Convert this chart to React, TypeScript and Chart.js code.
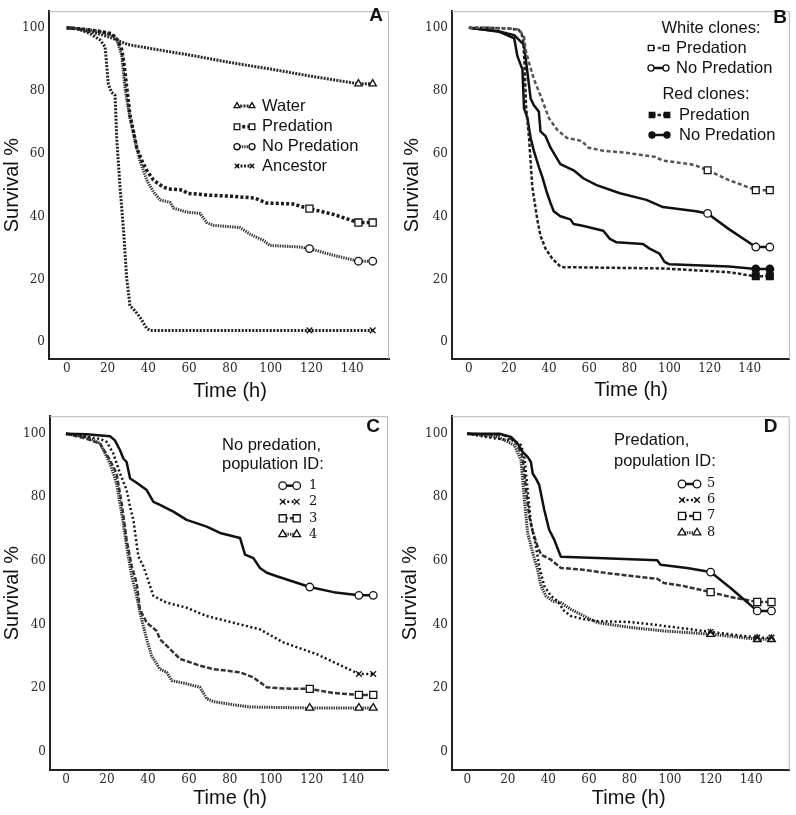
import React, { useEffect, useRef } from 'react';
import { Chart, registerables } from 'chart.js';

Chart.register(...registerables);

// ---------- tick values ----------
const xTickValues = [0, 20, 40, 60, 80, 100, 120, 140];
const yTickValues = [0, 20, 40, 60, 80, 100];

// ---------- Panel A ----------
const aWaterT = [0, 5, 10, 15, 20, 25, 30, 45, 60, 80, 100, 120, 143, 150];
const aWaterS = [100, 99.8, 99, 98.2, 97.3, 96, 94.7, 93, 91.4, 89, 86.9, 84.6, 82.2, 82.2];
const aWaterMarks = [143, 150];

const aPredT = [0, 8, 15, 22, 25, 27, 28, 29.5, 31, 32.7, 34.3, 36.8, 39.2, 42.5, 47.4, 50, 57, 59, 70, 82, 92, 98, 111, 114.5, 119, 130.7, 140.5, 143, 150];
const aPredS = [100, 99.6, 99, 98.2, 96, 93, 89, 80.6, 72.3, 67.1, 61.9, 57.8, 54.7, 51.6, 49.3, 48.8, 48.4, 47.4, 46.8, 46.4, 45.9, 44.3, 44, 43.3, 42.5, 40.7, 38.6, 38.1, 38.1];
const aPredMarks = [119, 143, 150];

const aNoPredT = [0, 8, 15, 22, 24.5, 27, 28.6, 31, 34.3, 35.9, 39.2, 42.5, 45.8, 50.7, 52.3, 58.8, 65.4, 68.6, 71.9, 85, 89.9, 96.4, 99.7, 114.4, 119, 130.7, 143, 150];
const aNoPredS = [100, 99.6, 99, 97.8, 96.5, 91, 80.6, 71.3, 61.9, 57.8, 51.6, 47.9, 45.3, 44.5, 42.7, 41.4, 41, 38.1, 37.2, 36.5, 34.4, 32.4, 30.8, 30.3, 29.8, 27.7, 25.8, 25.8];
const aNoPredMarks = [119, 143, 150];

const aAncT = [0, 5, 11.4, 16.3, 18.8, 19.6, 20.4, 22, 23.7, 24.5, 26.1, 27.8, 29.4, 31, 32.7, 35.9, 39.2, 40.8, 119, 150];
const aAncS = [100, 99.8, 98.2, 96.2, 94, 88, 82, 79.5, 78.5, 65, 49.5, 36, 20.4, 11.6, 10.6, 8, 4.4, 3.8, 3.8, 3.8];
const aAncMarks = [119, 150];

// ---------- Panel B ----------
const bWPredT = [0, 10, 20, 25, 27.5, 28.3, 30, 32.4, 35.7, 39.9, 44, 48.9, 53, 56.3, 59.6, 67, 76.9, 92.6, 96.7, 109.9, 113.2, 119, 129.6, 143, 150];
const bWPredS = [100, 100, 99.8, 99.5, 97.2, 93, 88.9, 83.7, 78.5, 71.3, 67.6, 65, 64.5, 64, 61.9, 60.9, 60.4, 59, 57.8, 56.7, 56.2, 54.7, 51.6, 48.4, 48.4];
const bWPredMarks = [119, 143, 150];

const bWNoPredT = [0, 5, 14.3, 22.6, 27.5, 29.2, 30.8, 32.4, 34.9, 35.7, 38.2, 40.7, 45.6, 52.2, 57.2, 63.7, 75.3, 88.5, 96.7, 113.2, 119, 129.6, 143, 150];
const bWNoPredS = [100, 99.6, 99, 97.7, 94.6, 85.8, 77.5, 75.4, 73.3, 67.1, 65.6, 61.9, 56.7, 54.7, 52.1, 50, 47.4, 45.3, 43, 41.7, 41, 36, 30.3, 30.3];
const bWNoPredMarks = [119, 143, 150];

const bRPredT = [0, 10, 20, 25, 27, 27.8, 28.5, 30, 31.6, 34.1, 35.7, 38.2, 41.5, 45.6, 47.3, 60, 96.7, 129.6, 143, 150];
const bRPredS = [100, 100, 99.8, 99.3, 97, 88, 75, 65, 49.5, 39.1, 33.9, 29.8, 26.7, 24.1, 23.9, 23.8, 23.5, 22.3, 21, 21];
const bRPredMarks = [143, 150];

const bRNoPredT = [0, 5, 15, 22.6, 24.2, 26.7, 27.5, 29.2, 30.8, 32.4, 34.9, 36.6, 39, 40.7, 42.3, 45.6, 50.6, 52.2, 57.2, 67, 70.3, 73.6, 86.8, 90.1, 95, 97.5, 100, 129.6, 143, 150];
const bRNoPredS = [100, 99.6, 98.8, 96.7, 91, 86.8, 74.4, 71.3, 65, 60.9, 55.7, 52.6, 47.4, 44.3, 41.7, 40.1, 39.1, 37.6, 37, 35.5, 32.9, 31.8, 31.3, 29.8, 28.2, 25.6, 24.8, 24.1, 23.3, 23.3];
const bRNoPredMarks = [143, 150];

// ---------- Panel C ----------
const cP1T = [0, 10, 21.5, 23.9, 26.4, 28, 29.6, 31.3, 34.5, 39.4, 42.7, 45.9, 52.4, 58.9, 68.7, 75.2, 85, 87.4, 91.5, 94.7, 98, 102.9, 119, 130.6, 143, 150];
const cP1S = [100, 99.8, 99.2, 97.9, 94.8, 92.2, 91.1, 85.9, 84.6, 82.3, 78.6, 77.6, 75.5, 72.9, 70.8, 68.8, 67.2, 62, 60.9, 57.8, 56.3, 55.2, 51.8, 50.2, 49.2, 49.2];
const cP1Marks = [119, 143, 150];

const cP2T = [0, 16.6, 19.9, 23.1, 26.4, 29.6, 31.3, 32.9, 35.3, 37.8, 42.7, 49.2, 58.9, 68.7, 81.7, 94.7, 106.1, 122.4, 143, 150];
const cP2S = [100, 98.4, 97.4, 93.8, 87.5, 82.3, 77, 72.9, 61.5, 58.3, 49, 46.9, 45.3, 42.7, 40.6, 38.5, 34.4, 30.7, 24.5, 24.5];
const cP2Marks = [143, 150];

const cP3T = [0, 10, 16.6, 21.5, 24.7, 27.2, 29.6, 32.1, 34.5, 36.1, 39.4, 44.3, 45.9, 50.8, 55.7, 65.4, 72, 85, 91.5, 98, 106.1, 119, 130.6, 143, 150];
const cP3S = [100, 98.4, 96.9, 91.7, 87.5, 78.1, 66.7, 58.3, 53.1, 44.8, 40.6, 38, 35.4, 32.3, 29.2, 27.1, 26, 25, 23.4, 20.3, 19.9, 19.8, 18.5, 17.9, 17.9];
const cP3Marks = [119, 143, 150];

const cP4T = [0, 10, 16.6, 21.5, 24.7, 27.2, 29.6, 32.1, 34.5, 36.1, 39.4, 41.8, 45.9, 49.2, 51.6, 58.9, 65.4, 68.7, 72, 81.7, 89.9, 119, 143, 150];
const cP4S = [100, 99, 97, 90.6, 84.4, 75, 64.6, 55.2, 49, 43.8, 35.4, 30.2, 26, 25, 22.4, 21.4, 20.3, 16.7, 15.8, 14.8, 14.1, 13.8, 13.8, 13.8];
const cP4Marks = [119, 143, 150];

// ---------- Panel D ----------
const dP5T = [0, 15.9, 21.6, 24.9, 27.3, 29.8, 31.4, 32.3, 33.9, 35.5, 38, 40.4, 42.9, 44.5, 46.2, 64.2, 93.7, 95.3, 108.4, 120, 129.7, 143, 150];
const dP5S = [100, 100, 99, 96.9, 94.3, 92.7, 91.1, 87.5, 85.9, 83.9, 76, 69.8, 66.7, 64.1, 61.3, 60.9, 60.2, 58.8, 57.8, 56.5, 51.6, 44.3, 44.3];
const dP5Marks = [120, 143, 150];

const dP6T = [0, 15, 22.4, 26.5, 28.2, 29.8, 31.4, 33.9, 35.5, 38, 41.3, 44.5, 47.8, 51.1, 57.6, 64.2, 80.6, 96.9, 120, 143, 150];
const dP6S = [100, 98.4, 97.9, 96.4, 92.7, 82.3, 71.9, 64.6, 58.3, 52.1, 49, 47.4, 44.3, 42.7, 41.7, 41.1, 40.8, 39.6, 37.7, 35.9, 35.9];
const dP6Marks = [120, 143, 150];

const dP7T = [0, 18.3, 24.1, 27.3, 29, 30.6, 32.3, 34.7, 36.4, 41.3, 46.2, 56, 72.4, 93.7, 96.9, 106.8, 120, 129.7, 143, 150];
const dP7S = [100, 99.5, 97.4, 92.7, 82.3, 74, 69.3, 64.6, 62, 60.4, 57.8, 57.3, 55.9, 54.4, 53.1, 52.1, 50.2, 48.7, 47.1, 47.1];
const dP7Marks = [120, 143, 150];

const dP8T = [0, 15, 23.3, 26.5, 28.2, 29.8, 32.3, 34.7, 36.4, 38.8, 42.1, 46.2, 51.1, 57.6, 64.2, 80.6, 96.9, 120, 143, 150];
const dP8S = [100, 99, 96.4, 91.7, 79.2, 68.8, 62.5, 57.3, 52.1, 49, 47.4, 46.9, 44.8, 42.7, 40.6, 39.1, 38, 37, 35.4, 35.4];
const dP8Marks = [120, 143, 150];

// ---------- styles ----------
type St = { color: string; width: number; dash: number[]; point: string; r: number; fill: string };

const stWater: St = { color: '#2a2a2a', width: 3, dash: [2, 1.2], point: 'triangle', r: 4.2, fill: '#fff' };
const stPredA: St = { color: '#1a1a1a', width: 3.5, dash: [3, 2.2], point: 'rect', r: 5, fill: '#fff' };
const stNoPredA: St = { color: '#3a3a3a', width: 3, dash: [1.4, 1], point: 'circle', r: 3.8, fill: '#fff' };
const stAnc: St = { color: '#222', width: 3, dash: [2, 1.5], point: 'crossRot', r: 4, fill: '#fff' };

const stWPred: St = { color: '#555', width: 2.5, dash: [4, 2.5], point: 'rect', r: 4.8, fill: '#fff' };
const stWNoPred: St = { color: '#111', width: 2.5, dash: [], point: 'circle', r: 3.8, fill: '#fff' };
const stRPred: St = { color: '#222', width: 2.5, dash: [3.5, 2], point: 'rect', r: 4.8, fill: '#111' };
const stRNoPred: St = { color: '#111', width: 2.5, dash: [], point: 'circle', r: 3.8, fill: '#111' };

const stSolid: St = { color: '#111', width: 2.5, dash: [], point: 'circle', r: 3.8, fill: '#fff' };
const stDot: St = { color: '#111', width: 2.5, dash: [2, 2.5], point: 'crossRot', r: 4, fill: '#fff' };
const stDash: St = { color: '#333', width: 2.5, dash: [5, 2], point: 'rect', r: 5, fill: '#fff' };
const stDense: St = { color: '#333', width: 3, dash: [1.4, 1], point: 'triangle', r: 4.5, fill: '#fff' };

const SANS = '"Liberation Sans", Arial, sans-serif';
const SERIF = '"DejaVu Serif", serif';

function makeDs(label: string, t: number[], s: number[], marks: number[], st: St) {
  const markSet = new Set(marks);
  return {
    label,
    data: t.map((x, i) => ({ x, y: s[i] })),
    borderColor: st.color,
    borderWidth: st.width,
    borderDash: st.dash,
    borderJoinStyle: 'round',
    tension: 0,
    fill: false,
    pointStyle: st.point,
    pointRadius: (ctx: any) => (ctx.raw && markSet.has(ctx.raw.x) ? st.r : 0),
    pointHoverRadius: 0,
    pointBackgroundColor: st.fill,
    pointBorderColor: '#111',
    pointBorderWidth: 1.3,
    _st: st,
  };
}

function drawMarker(ctx: CanvasRenderingContext2D, st: St, x: number, y: number, r: number) {
  ctx.save();
  ctx.setLineDash([]);
  ctx.lineWidth = 1.3;
  ctx.strokeStyle = '#111';
  ctx.fillStyle = st.fill;
  ctx.beginPath();
  if (st.point === 'circle') {
    ctx.arc(x, y, r, 0, Math.PI * 2);
  } else if (st.point === 'rect') {
    const s = r * Math.SQRT1_2;
    ctx.rect(x - s, y - s, 2 * s, 2 * s);
  } else if (st.point === 'triangle') {
    let a = 0;
    ctx.moveTo(x + Math.sin(a) * r, y - Math.cos(a) * r);
    a += (2 * Math.PI) / 3;
    ctx.lineTo(x + Math.sin(a) * r, y - Math.cos(a) * r);
    a += (2 * Math.PI) / 3;
    ctx.lineTo(x + Math.sin(a) * r, y - Math.cos(a) * r);
    ctx.closePath();
  } else if (st.point === 'crossRot') {
    const o = r * Math.cos(Math.PI / 4);
    ctx.moveTo(x - o, y - o);
    ctx.lineTo(x + o, y + o);
    ctx.moveTo(x - o, y + o);
    ctx.lineTo(x + o, y - o);
  }
  if (st.point !== 'crossRot') ctx.fill();
  ctx.stroke();
  ctx.restore();
}

type LegItem =
  | { kind: 'head'; text: string; x: number; y: number; align: CanvasTextAlign }
  | { kind: 'entry'; ds: number; y: number; x1: number; x2: number; tx: number; text: string; serif?: boolean };

type Panel = {
  key: string;
  left: number; top: number; w: number; h: number;
  padTop: number; padRight: number; yw: number; xh: number;
  xmin: number; xmax: number; ymin: number; ymax: number;
  yTitlePad: number;
  xTitle: { x: number; y: number };
  letter: { x: number; y: number };
  legend: LegItem[];
  legendR: number;
  datasets: any[];
};

const panels: Panel[] = [
  {
    key: 'A', left: 0, top: 0, w: 398, h: 405, padTop: 4, padRight: 9, yw: 49, xh: 46,
    xmin: -8.7, xmax: 158, ymin: -5.3, ymax: 105.3, yTitlePad: 0,
    xTitle: { x: 230, y: 391.7 }, letter: { x: 376, y: 16 }, legendR: 0.8,
    legend: [
      { kind: 'entry', ds: 0, y: 106, x1: 237, x2: 252, tx: 262, text: 'Water' },
      { kind: 'entry', ds: 1, y: 126.7, x1: 237, x2: 252, tx: 262, text: 'Predation' },
      { kind: 'entry', ds: 2, y: 146.7, x1: 237, x2: 252, tx: 262, text: 'No Predation' },
      { kind: 'entry', ds: 3, y: 166, x1: 237, x2: 252, tx: 262, text: 'Ancestor' },
    ],
    datasets: [
      makeDs('Water', aWaterT, aWaterS, aWaterMarks, stWater),
      makeDs('Predation', aPredT, aPredS, aPredMarks, stPredA),
      makeDs('No Predation', aNoPredT, aNoPredS, aNoPredMarks, stNoPredA),
      makeDs('Ancestor', aAncT, aAncS, aAncMarks, stAnc),
    ],
  },
  {
    key: 'B', left: 398, top: 0, w: 398, h: 405, padTop: 4, padRight: 3, yw: 54, xh: 46,
    xmin: -8.4, xmax: 160, ymin: -5.3, ymax: 105.3, yTitlePad: 2,
    xTitle: { x: 233, y: 390 }, letter: { x: 382, y: 18 }, legendR: 0.8,
    legend: [
      { kind: 'head', text: 'White clones:', x: 313, y: 28, align: 'center' },
      { kind: 'entry', ds: 0, y: 48, x1: 253, x2: 268, tx: 278, text: 'Predation' },
      { kind: 'entry', ds: 1, y: 68, x1: 253, x2: 268, tx: 278, text: 'No Predation' },
      { kind: 'head', text: 'Red clones:', x: 308, y: 94, align: 'center' },
      { kind: 'entry', ds: 2, y: 115, x1: 254, x2: 269, tx: 281, text: 'Predation' },
      { kind: 'entry', ds: 3, y: 135, x1: 254, x2: 269, tx: 281, text: 'No Predation' },
    ],
    datasets: [
      makeDs('White Predation', bWPredT, bWPredS, bWPredMarks, stWPred),
      makeDs('White No Predation', bWNoPredT, bWNoPredS, bWNoPredMarks, stWNoPred),
      makeDs('Red Predation', bRPredT, bRPredS, bRPredMarks, stRPred),
      makeDs('Red No Predation', bRNoPredT, bRNoPredS, bRNoPredMarks, stRNoPred),
    ],
  },
  {
    key: 'C', left: 0, top: 405, w: 398, h: 410, padTop: 9, padRight: 10, yw: 50, xh: 45,
    xmin: -7.8, xmax: 157.2, ymin: -5.7, ymax: 105.5, yTitlePad: 0,
    xTitle: { x: 230, y: 393 }, letter: { x: 373, y: 21.5 }, legendR: 1,
    legend: [
      { kind: 'head', text: 'No predation,', x: 222, y: 40, align: 'left' },
      { kind: 'head', text: 'population ID:', x: 222, y: 59.5, align: 'left' },
      { kind: 'entry', ds: 0, y: 80.7, x1: 282.7, x2: 296.7, tx: 309, text: '1', serif: true },
      { kind: 'entry', ds: 1, y: 96.7, x1: 282.7, x2: 296.7, tx: 309, text: '2', serif: true },
      { kind: 'entry', ds: 2, y: 113.3, x1: 282.7, x2: 296.7, tx: 309, text: '3', serif: true },
      { kind: 'entry', ds: 3, y: 129.3, x1: 282.7, x2: 296.7, tx: 309, text: '4', serif: true },
    ],
    datasets: [
      makeDs('1', cP1T, cP1S, cP1Marks, stSolid),
      makeDs('2', cP2T, cP2S, cP2Marks, stDot),
      makeDs('3', cP3T, cP3S, cP3Marks, stDash),
      makeDs('4', cP4T, cP4S, cP4Marks, stDense),
    ],
  },
  {
    key: 'D', left: 398, top: 405, w: 398, h: 410, padTop: 9, padRight: 5, yw: 54, xh: 45,
    xmin: -7.5, xmax: 159, ymin: -5.7, ymax: 105.5, yTitlePad: 0,
    xTitle: { x: 230.7, y: 393 }, letter: { x: 372.5, y: 21.5 }, legendR: 1,
    legend: [
      { kind: 'head', text: 'Predation,', x: 216, y: 35.5, align: 'left' },
      { kind: 'head', text: 'population ID:', x: 216, y: 56.7, align: 'left' },
      { kind: 'entry', ds: 0, y: 79, x1: 284, x2: 299, tx: 309, text: '5', serif: true },
      { kind: 'entry', ds: 1, y: 95, x1: 284, x2: 299, tx: 309, text: '6', serif: true },
      { kind: 'entry', ds: 2, y: 111, x1: 284, x2: 299, tx: 309, text: '7', serif: true },
      { kind: 'entry', ds: 3, y: 127.7, x1: 284, x2: 299, tx: 309, text: '8', serif: true },
    ],
    datasets: [
      makeDs('5', dP5T, dP5S, dP5Marks, stSolid),
      makeDs('6', dP6T, dP6S, dP6Marks, stDot),
      makeDs('7', dP7T, dP7S, dP7Marks, stDash),
      makeDs('8', dP8T, dP8S, dP8Marks, stDense),
    ],
  },
];

function decorPlugin(p: Panel) {
  return {
    id: 'decor' + p.key,
    afterDraw(chart: any) {
      const ctx: CanvasRenderingContext2D = chart.ctx;
      const ca = chart.chartArea;
      ctx.save();
      // light top/right frame
      ctx.strokeStyle = '#b5b5b5';
      ctx.lineWidth = 1;
      ctx.setLineDash([]);
      ctx.beginPath();
      ctx.moveTo(ca.left, ca.top + 0.5);
      ctx.lineTo(ca.right - 0.5, ca.top + 0.5);
      ctx.lineTo(ca.right - 0.5, ca.bottom);
      ctx.stroke();

      // panel letter
      ctx.fillStyle = '#111';
      ctx.font = `bold 19px ${SANS}`;
      ctx.textAlign = 'center';
      ctx.textBaseline = 'middle';
      ctx.fillText(p.key, p.letter.x, p.letter.y);

      // x title
      ctx.font = `20px ${SANS}`;
      ctx.fillText('Time (h)', p.xTitle.x, p.xTitle.y);

      // legend
      for (const it of p.legend) {
        if (it.kind === 'head') {
          ctx.font = `16.5px ${SANS}`;
          ctx.textAlign = it.align;
          ctx.fillStyle = '#111';
          ctx.fillText(it.text, it.x, it.y);
        } else {
          const st: St = p.datasets[it.ds]._st;
          ctx.save();
          ctx.strokeStyle = st.color;
          ctx.lineWidth = st.width;
          ctx.setLineDash(st.dash);
          ctx.beginPath();
          ctx.moveTo(it.x1, it.y);
          ctx.lineTo(it.x2, it.y);
          ctx.stroke();
          ctx.restore();
          drawMarker(ctx, st, it.x1, it.y, st.r * p.legendR);
          drawMarker(ctx, st, it.x2, it.y, st.r * p.legendR);
          ctx.fillStyle = '#111';
          ctx.textAlign = 'left';
          ctx.font = it.serif ? `13px ${SERIF}` : `16.5px ${SANS}`;
          ctx.fillText(it.text, it.tx, it.y);
        }
      }
      ctx.restore();
    },
  };
}

function PanelChart({ p }: { p: Panel }) {
  const ref = useRef<HTMLCanvasElement | null>(null);
  useEffect(() => {
    if (!ref.current) return;
    const tickFont = { family: SERIF, size: 12 };
    const chart = new Chart(ref.current, {
      type: 'line',
      data: { datasets: p.datasets as any },
      options: {
        responsive: false,
        animation: false,
        events: [],
        layout: { padding: { top: p.padTop, right: p.padRight, left: 0, bottom: 0 } },
        plugins: {
          legend: { display: false },
          tooltip: { enabled: false },
          title: { display: false },
        },
        scales: {
          x: {
            type: 'linear',
            min: p.xmin,
            max: p.xmax,
            afterBuildTicks: (ax: any) => {
              ax.ticks = xTickValues.map((v) => ({ value: v }));
            },
            afterFit: (sc: any) => {
              sc.height = p.xh;
            },
            grid: { display: true, drawOnChartArea: false, drawTicks: false },
            border: { display: true, color: '#222', width: 2 },
            ticks: { font: tickFont, color: '#2a2a2a', padding: 3, maxRotation: 0, autoSkip: false },
            title: { display: false },
          },
          y: {
            type: 'linear',
            min: p.ymin,
            max: p.ymax,
            afterBuildTicks: (ax: any) => {
              ax.ticks = yTickValues.map((v) => ({ value: v }));
            },
            afterFit: (sc: any) => {
              sc.width = p.yw;
            },
            grid: { display: true, drawOnChartArea: false, drawTicks: false },
            border: { display: true, color: '#222', width: 2 },
            ticks: { font: tickFont, color: '#2a2a2a', padding: 4 },
            title: {
              display: true,
              text: 'Survival %',
              font: { family: SANS, size: 20 },
              color: '#111',
              padding: { top: p.yTitlePad, bottom: 0 },
            },
          },
        },
      } as any,
      plugins: [decorPlugin(p)],
    });
    return () => chart.destroy();
  }, [p]);
  return (
    <canvas
      ref={ref}
      width={p.w}
      height={p.h}
      style={{ position: 'absolute', left: p.left, top: p.top, width: p.w, height: p.h }}
    />
  );
}

export default function App() {
  return (
    <div style={{ position: 'absolute', left: 0, top: 0, width: 796, height: 815, background: '#fff' }}>
      {panels.map((p) => (
        <PanelChart key={p.key} p={p} />
      ))}
    </div>
  );
}
